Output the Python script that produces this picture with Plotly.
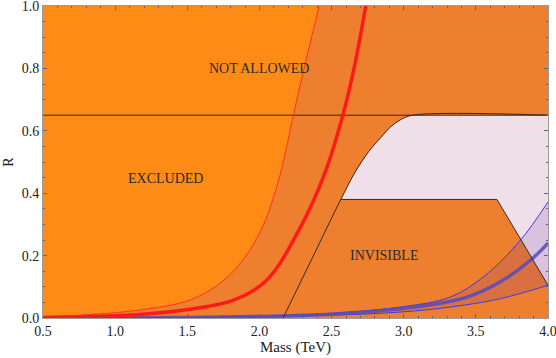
import plotly.graph_objects as go

# Curves (Mass in TeV, R dimensionless)
thin_red_x = [0.5, 0.75, 1.0, 1.24, 1.47, 1.59, 1.70, 1.82, 1.93, 2.03, 2.12, 2.18, 2.235, 2.32, 2.414]
thin_red_y = [0.004, 0.009, 0.017, 0.030, 0.050, 0.072, 0.102, 0.150, 0.215, 0.300, 0.420, 0.530, 0.650, 0.820, 1.0]

thick_red_x = [0.5, 1.0, 1.47, 1.82, 2.05, 2.28, 2.45, 2.578, 2.66, 2.737]
thick_red_y = [0.002, 0.007, 0.025, 0.057, 0.121, 0.287, 0.460, 0.650, 0.810, 1.0]

# boundary of the invisible / allowed region
bound_x = [2.164, 2.364, 2.564, 2.66, 2.76, 2.84, 2.91, 2.98, 3.06]
bound_y = [0.0, 0.19, 0.38, 0.465, 0.535, 0.578, 0.613, 0.636, 0.65]
shelf_x = [2.564, 3.646, 4.0]
shelf_y = [0.38, 0.38, 0.105]

r_max = 0.65

blue_up_x = [0.5, 1.5, 2.0, 2.5, 2.975, 3.322, 3.553, 3.808, 4.0]
blue_up_y = [0.0, 0.002, 0.006, 0.015, 0.035, 0.067, 0.132, 0.249, 0.372]
blue_mid_x = [0.5, 1.5, 2.0, 2.5, 2.975, 3.207, 3.44, 3.67, 3.878, 4.0]
blue_mid_y = [0.0, 0.002, 0.005, 0.012, 0.030, 0.044, 0.067, 0.116, 0.185, 0.240]
blue_lo_x = [0.5, 1.5, 2.0, 2.5, 2.975, 3.322, 3.67, 4.0]
blue_lo_y = [0.0, 0.001, 0.004, 0.009, 0.019, 0.035, 0.062, 0.105]

labels = ["NOT ALLOWED", "EXCLUDED", "INVISIBLE"]
label_x = [2.0, 1.35, 2.86]
label_y = [0.80, 0.448, 0.20]

SERIF = "Liberation Serif"
DARK_ORANGE = "#ED7F2E"
LIGHT_ORANGE = "#FE8B16"
PINK = "#EFDFE9"

fig = go.Figure()

# excluded region: everything left of the thin red curve
fig.add_trace(go.Scatter(
    x=[0.5] + thin_red_x + [0.5],
    y=[0.0] + thin_red_y + [1.0],
    fill="toself", fillcolor=LIGHT_ORANGE, mode="none", hoverinfo="skip",
))

# allowed (pink) region
fig.add_trace(go.Scatter(
    x=bound_x[2:] + [4.0] + shelf_x[::-1],
    y=bound_y[2:] + [r_max] + shelf_y[::-1],
    fill="toself", fillcolor=PINK, mode="none", hoverinfo="skip",
))

# blue band
fig.add_trace(go.Scatter(x=blue_lo_x, y=blue_lo_y, mode="lines",
                         line=dict(color="#3B3BF2", width=1), line_shape="spline"))
fig.add_trace(go.Scatter(x=blue_up_x, y=blue_up_y, mode="lines", fill="tonexty",
                         fillcolor="rgba(110,40,160,0.16)",
                         line=dict(color="#3B3BF2", width=1), line_shape="spline"))
fig.add_trace(go.Scatter(x=blue_mid_x, y=blue_mid_y, mode="lines",
                         line=dict(color="rgba(85,75,190,0.85)", width=3.5), line_shape="spline"))

# boundaries
fig.add_trace(go.Scatter(x=[0.5, 4.0], y=[r_max, r_max], mode="lines",
                         line=dict(color="#2a2a2a", width=1)))
fig.add_trace(go.Scatter(x=bound_x + [4.0], y=bound_y + [r_max], mode="lines",
                         line=dict(color="#3a2a22", width=1), line_shape="spline"))
fig.add_trace(go.Scatter(x=shelf_x, y=shelf_y, mode="lines",
                         line=dict(color="#3a2a22", width=1)))

# red curves
fig.add_trace(go.Scatter(x=thin_red_x, y=thin_red_y, mode="lines",
                         line=dict(color="#FF3322", width=1), line_shape="spline"))
fig.add_trace(go.Scatter(x=thick_red_x, y=thick_red_y, mode="lines",
                         line=dict(color="#FF1A1A", width=3.5), line_shape="spline"))

for txt, lx, ly in zip(labels, label_x, label_y):
    fig.add_annotation(x=lx, y=ly, text=txt, showarrow=False,
                       font=dict(family=SERIF, size=14, color="#2b2b2b"))

axis_common = dict(
    showline=True, linecolor="#9a9a9a", linewidth=1, mirror="ticks",
    ticks="inside", ticklen=4, tickcolor="#666", showgrid=False, zeroline=False,
    tickfont=dict(family=SERIF, size=14, color="#222"), ticklabeloverflow="allow",
)

fig.update_xaxes(range=[0.5, 4.0], dtick=0.5, tickformat=".1f",
                 minor=dict(dtick=0.1, ticks="inside", ticklen=2, tickcolor="#666"),
                 title=dict(text="Mass (TeV)", font=dict(family=SERIF, size=15, color="#222"), standoff=3),
                 **axis_common)
fig.update_yaxes(range=[0.0, 1.0], dtick=0.2, tickformat=".1f",
                 minor=dict(dtick=0.05, ticks="inside", ticklen=2, tickcolor="#666"),
                 title=dict(text="R", font=dict(family=SERIF, size=14, color="#222"), standoff=4),
                 **axis_common)

fig.update_layout(
    width=556, height=358,
    margin=dict(l=43, r=8, t=6, b=40, autoexpand=False),
    plot_bgcolor=DARK_ORANGE, paper_bgcolor="white",
    showlegend=False,
)

# drop the default body margin so the figure sits at the window's corner
fig.write_html("out.html", config={"displayModeBar": False},
               post_script="document.body.style.margin='0';")
